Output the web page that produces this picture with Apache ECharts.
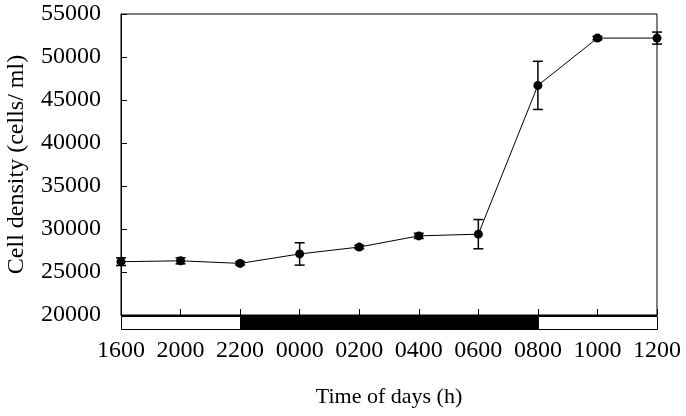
<!DOCTYPE html>
<html>
<head>
<meta charset="utf-8">
<script src="https://cdn.jsdelivr.net/npm/echarts@6/dist/echarts.min.js"></script>
<style>
  html, body { margin: 0; padding: 0; background: #fff; }
  #chart { width: 686px; height: 416px; }
</style>
</head>
<body>
<div id="chart"></div>
<script>
// time points (x axis)
const categories = ['1600', '2000', '2200', '0000', '0200', '0400', '0600', '0800', '1000', '1200']
// mean cell density (cells/ml)
const density = [26200, 26300, 26000, 27100, 27900, 29200, 29400, 46700, 52200, 52200]
// error (+/-)
const errors = [450, 350, 200, 1300, 200, 300, 1700, 2800, 200, 700]
// y ticks
const yMin = 20000
const yMax = 55000
const yStep = 5000
// light / dark periods shown under the axis
const phases = [
  { from: '1600', to: '2200', dark: false },
  { from: '2200', to: '0800', dark: true },
  { from: '0800', to: '1200', dark: false }
]

const serif = 'Liberation Serif'
const chart = echarts.init(document.getElementById('chart'))

const errData = density.map((v, i) => [i, v - errors[i], v + errors[i]])
const phaseData = phases.map(p => [categories.indexOf(p.from), categories.indexOf(p.to), p.dark ? 1 : 0])

const option = {
  animation: false,
  backgroundColor: '#fff',
  grid: [
    { left: 121, right: 29, top: 14, bottom: 101, show: true, borderColor: '#000', borderWidth: 1, outerBoundsMode: 'none' },
    { left: 121, right: 29, top: 316, height: 14, outerBoundsMode: 'none' }
  ],
  xAxis: [
    {
      type: 'category',
      gridIndex: 0,
      data: categories,
      boundaryGap: false,
      axisLine: { lineStyle: { color: '#000', width: 1 } },
      axisTick: { inside: true, length: 6, interval: 0, lineStyle: { color: '#000' } },
      axisLabel: { color: '#000', fontFamily: serif, fontSize: 24, margin: 24, interval: 0 },
      name: 'Time of days (h)',
      nameLocation: 'middle',
      nameGap: 71,
      nameTextStyle: { color: '#000', fontFamily: serif, fontSize: 22 }
    },
    {
      type: 'category',
      gridIndex: 1,
      data: categories,
      boundaryGap: false,
      show: false
    }
  ],
  yAxis: [
    {
      type: 'value',
      gridIndex: 0,
      min: yMin,
      max: yMax,
      interval: yStep,
      splitLine: { show: false },
      axisLine: { show: true, lineStyle: { color: '#000', width: 1 } },
      axisTick: { show: true, inside: true, length: 6, lineStyle: { color: '#000' } },
      axisLabel: { color: '#000', fontFamily: serif, fontSize: 24, margin: 20, formatter: v => String(v) },
      name: 'Cell density (cells/ ml)',
      nameLocation: 'middle',
      nameGap: 92,
      nameTextStyle: { color: '#000', fontFamily: serif, fontSize: 24 }
    },
    { type: 'value', gridIndex: 1, min: 0, max: 1, show: false }
  ],
  series: [
    {
      type: 'line',
      data: density,
      clip: false,
      symbol: 'circle',
      symbolSize: 9,
      itemStyle: { color: '#000' },
      lineStyle: { color: '#000', width: 1 },
      z: 3
    },
    {
      type: 'custom',
      data: errData,
      clip: false,
      renderItem: (params, api) => {
        const x = api.value(0)
        const lo = api.coord([x, api.value(1)])
        const hi = api.coord([x, api.value(2)])
        const w = 5
        const st = { stroke: '#000', lineWidth: 1.5 }
        return {
          type: 'group',
          children: [
            { type: 'line', shape: { x1: lo[0], y1: lo[1], x2: hi[0], y2: hi[1] }, style: st },
            { type: 'line', shape: { x1: lo[0] - w, y1: lo[1], x2: lo[0] + w, y2: lo[1] }, style: st },
            { type: 'line', shape: { x1: hi[0] - w, y1: hi[1], x2: hi[0] + w, y2: hi[1] }, style: st }
          ]
        }
      },
      z: 4
    },
    {
      type: 'custom',
      xAxisIndex: 1,
      yAxisIndex: 1,
      data: phaseData,
      renderItem: (params, api) => {
        const p0 = api.coord([api.value(0), 1])
        const p1 = api.coord([api.value(1), 0])
        const dark = api.value(2) === 1
        return {
          type: 'rect',
          shape: { x: p0[0] + 0.5, y: p0[1] + 0.5, width: p1[0] - p0[0], height: p1[1] - p0[1] - 1 },
          style: { fill: dark ? '#000' : '#fff', stroke: '#000', lineWidth: 1 }
        }
      }
    }
  ]
}
chart.setOption(option)
</script>
</body>
</html>
